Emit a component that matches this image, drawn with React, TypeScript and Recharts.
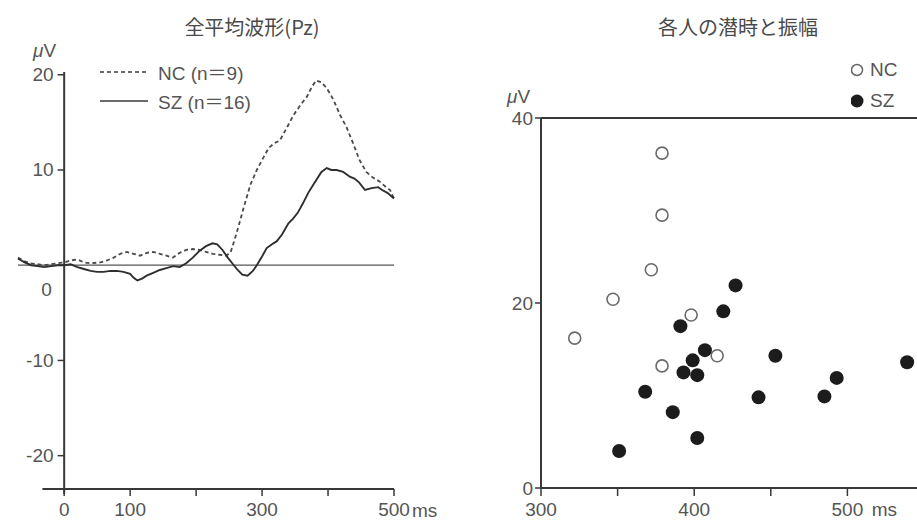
import React from "react";
import { LineChart, Line, XAxis, YAxis, ReferenceLine, ScatterChart, Scatter, Legend } from "recharts";

// grand average waveform at Pz (ms, µV)
const NC_TIME = [-70, -60, -50, -40, -30, -20, -10, 0, 10, 20, 30, 40, 55, 65, 75, 85, 95, 105, 115, 125, 135, 145, 155, 165, 175, 185, 195, 205, 215, 225, 235, 245, 252, 258, 264, 272, 282, 292, 302, 310, 318, 327, 338, 348, 358, 368, 376, 382, 390, 398, 408, 418, 428, 438, 448, 458, 468, 478, 488, 494, 500];
const NC_AMP = [0.8, 0.4, 0.2, 0.1, 0.0, 0.1, 0.2, 0.3, 0.5, 0.6, 0.3, 0.2, 0.3, 0.5, 0.8, 1.2, 1.4, 1.2, 1.0, 1.3, 1.4, 1.2, 1.0, 0.8, 1.3, 1.6, 1.7, 1.6, 1.4, 1.2, 1.1, 1.0, 1.3, 2.6, 4.0, 6.0, 8.4, 10.0, 11.3, 12.3, 12.8, 13.1, 14.5, 15.8, 16.8, 17.7, 18.8, 19.4, 19.2, 18.6, 17.4, 15.8, 14.5, 12.8, 11.0, 9.8, 9.2, 8.8, 8.2, 7.9, 7.0];
const SZ_TIME = [-70, -60, -50, -40, -30, -20, -10, 0, 10, 20, 30, 40, 50, 60, 70, 80, 90, 100, 105, 111, 118, 125, 135, 145, 155, 165, 175, 185, 195, 205, 215, 225, 232, 240, 248, 256, 263, 270, 278, 286, 292, 299, 307, 315, 322, 330, 340, 347, 354, 362, 370, 380, 390, 398, 405, 413, 423, 433, 440, 447, 456, 466, 476, 482, 490, 500];
const SZ_AMP = [0.7, 0.3, 0.0, -0.1, -0.2, -0.1, 0.0, 0.0, 0.1, -0.2, -0.4, -0.6, -0.7, -0.7, -0.6, -0.6, -0.7, -0.9, -1.3, -1.6, -1.4, -1.1, -0.8, -0.5, -0.3, -0.1, -0.2, 0.2, 0.8, 1.5, 2.0, 2.3, 2.2, 1.6, 0.8, 0.1, -0.5, -1.0, -1.1, -0.6, 0.0, 0.8, 1.8, 2.2, 2.5, 3.2, 4.4, 4.9, 5.5, 6.5, 7.6, 8.7, 9.8, 10.2, 10.0, 10.0, 9.8, 9.3, 9.1, 8.7, 7.9, 8.1, 8.2, 7.9, 7.6, 7.0];

// individual latency (ms) and amplitude (µV)
const NC_LATENCY = [379, 379, 372, 347, 322, 398, 379, 415];
const NC_AMPLITUDE = [36.2, 29.5, 23.6, 20.4, 16.2, 18.7, 13.2, 14.3];
const SZ_LATENCY = [427, 419, 391, 407, 399, 393, 402, 453, 539, 493, 368, 442, 485, 386, 402, 351];
const SZ_AMPLITUDE = [21.9, 19.1, 17.5, 14.9, 13.8, 12.5, 12.2, 14.3, 13.6, 11.9, 10.4, 9.8, 9.9, 8.2, 5.4, 4.0];

const WAVE_X_TICKS = [0, 100, 200, 300, 400, 500];
const WAVE_X_LABELS = ["0", "100", "", "300", "", "500"];
const WAVE_Y_TICKS = [20, 10, 0, -10, -20];
const WAVE_Y_LABELS = ["20", "10", "0", "-10", "-20"];
const SCAT_X_TICKS = [300, 350, 400, 450, 500];
const SCAT_X_LABELS = ["300", "", "400", "", "500"];
const SCAT_Y_TICKS = [0, 20, 40];

const NC_NAME = "NC (n＝9)";
const SZ_NAME = "SZ (n＝16)";

const ncWave = NC_TIME.map((t, i) => ({ t, v: NC_AMP[i] }));
const szWave = SZ_TIME.map((t, i) => ({ t, v: SZ_AMP[i] }));
const ncPts = NC_LATENCY.map((x, i) => ({ x, y: NC_AMPLITUDE[i] }));
const szPts = SZ_LATENCY.map((x, i) => ({ x, y: SZ_AMPLITUDE[i] }));

const FONT = "'Liberation Sans', Arial, 'Noto Sans CJK JP', sans-serif";
const CJK = "'Noto Sans CJK JP', sans-serif";
const INK = "#383838";
const TXT = "#555";
const FS = 19;
const Y_MIN = -23.5;

const xTick = (ticks: number[], labels: string[]) => (p: any) => {
  const i = ticks.indexOf(p.payload.value);
  return (
    <text x={p.x} y={p.y} dy="0.71em" textAnchor="middle" fill={TXT} fontSize={FS} fontFamily={FONT}>
      {labels[i] ?? ""}
    </text>
  );
};

const yTickLabel = (text: string, below: boolean) => (p: any) => {
  const vb = p.viewBox || { x: 0, y: 0 };
  if (below)
    return (
      <text x={vb.x - 11} y={vb.y + 24} textAnchor="middle" dominantBaseline="central" fill={TXT} fontSize={FS} fontFamily={FONT}>
        {text}
      </text>
    );
  return (
    <text x={vb.x - 4} y={vb.y} textAnchor="end" dominantBaseline="central" fill={TXT} fontSize={FS} fontFamily={FONT}>
      {text}
    </text>
  );
};

const unitLabel = (dx: number, dy: number, anchor: "start" | "end") => (p: any) => {
  const vb = p.viewBox || { x: 0, y: 0, width: 0 };
  return (
    <text x={vb.x + vb.width + dx} y={vb.y + dy} textAnchor={anchor} fill={TXT} fontSize={FS} fontFamily={FONT}>
      ms
    </text>
  );
};

function WaveLegend(props: any) {
  const items = props.payload || [];
  return (
    <div style={{ fontFamily: FONT, fontSize: FS, color: TXT }}>
      {items.map((it: any) => (
        <div key={it.value} style={{ display: "flex", alignItems: "center", height: 29 }}>
          <svg width={58} height={6}>
            <line x1={0} x2={48} y1={3} y2={3} stroke={INK} strokeWidth={1.6} strokeDasharray={it.value === NC_NAME ? "4 3" : undefined} />
          </svg>
          <span>{it.value}</span>
        </div>
      ))}
    </div>
  );
}

function DotLegend(props: any) {
  const items = props.payload || [];
  return (
    <div style={{ fontFamily: FONT, fontSize: FS, color: TXT }}>
      {items.map((it: any) => (
        <div key={it.value} style={{ display: "flex", alignItems: "center", height: 31 }}>
          <svg width={19} height={14}>
            {it.value === "NC" ? (
              <circle cx={6} cy={7} r={5.5} fill="#fff" stroke="#666" strokeWidth={1.5} />
            ) : (
              <circle cx={6} cy={7} r={6.5} fill="#1c1c1c" />
            )}
          </svg>
          <span>{it.value}</span>
        </div>
      ))}
    </div>
  );
}

const OpenDot = (p: any) => <circle cx={p.cx} cy={p.cy} r={6} fill="#fff" stroke="#6a6a6a" strokeWidth={1.6} />;
const FilledDot = (p: any) => <circle cx={p.cx} cy={p.cy} r={7} fill="#1c1c1c" />;

function WaveChart() {
  return (
    <LineChart width={470} height={521} margin={{ top: 70, right: 76, left: 18, bottom: 0 }}>
      <XAxis
        dataKey="t"
        type="number"
        domain={[-70, 500]}
        ticks={WAVE_X_TICKS}
        interval={0}
        axisLine={false}
        tickLine={{ stroke: INK, strokeWidth: 1.5 }}
        tickSize={7}
        tickMargin={7}
        height={32}
        tick={xTick(WAVE_X_TICKS, WAVE_X_LABELS)}
        label={{ content: unitLabel(18, 27.5, "start") }}
      />
      <YAxis hide type="number" domain={[Y_MIN, 20.5]} />
      <ReferenceLine y={0} stroke="#555" strokeWidth={1.3} />
      <ReferenceLine segment={[{ x: 0, y: -24 }, { x: 0, y: 20.3 }]} stroke={INK} strokeWidth={2} ifOverflow="visible" />
      <ReferenceLine segment={[{ x: -33, y: Y_MIN }, { x: 500, y: Y_MIN }]} stroke={INK} strokeWidth={2} ifOverflow="visible" />
      {WAVE_Y_TICKS.map((v, i) => (
        <ReferenceLine
          key={v}
          segment={[{ x: -10, y: v }, { x: 0, y: v }]}
          stroke={INK}
          strokeWidth={1.5}
          ifOverflow="visible"
          label={yTickLabel(WAVE_Y_LABELS[i], v === 0)}
        />
      ))}
      <Line data={ncWave} dataKey="v" name={NC_NAME} type="linear" stroke="#4a4a4a" strokeWidth={1.8} strokeDasharray="4 3" dot={false} isAnimationActive={false} />
      <Line data={szWave} dataKey="v" name={SZ_NAME} type="linear" stroke="#2e2e2e" strokeWidth={1.9} dot={false} isAnimationActive={false} />
      <Legend
        layout="vertical"
        align="center"
        verticalAlign="middle"
        content={<WaveLegend />}
        wrapperStyle={{ left: 100, top: 57, width: 200, height: 60 }}
      />
    </LineChart>
  );
}

function ScatterPanel() {
  return (
    <ScatterChart width={470} height={521} margin={{ top: 118, right: 16, left: 0, bottom: 0 }}>
      <XAxis
        dataKey="x"
        type="number"
        domain={[300, 550]}
        ticks={SCAT_X_TICKS}
        interval={0}
        axisLine={{ stroke: INK, strokeWidth: 2 }}
        tickLine={{ stroke: INK, strokeWidth: 1.5 }}
        tickSize={8}
        tickMargin={7}
        height={33}
        tick={xTick(SCAT_X_TICKS, SCAT_X_LABELS)}
        label={{ content: unitLabel(-27, 28, "end") }}
      />
      <YAxis
        dataKey="y"
        type="number"
        domain={[0, 40]}
        ticks={SCAT_Y_TICKS}
        interval={0}
        width={71}
        axisLine={{ stroke: INK, strokeWidth: 2 }}
        tickLine={{ stroke: INK, strokeWidth: 1.5 }}
        tickSize={6}
        tickMargin={2}
        tick={{ fill: TXT, fontSize: FS, fontFamily: FONT }}
      />
      <ReferenceLine y={40} stroke={INK} strokeWidth={2} />
      <Scatter data={ncPts} name="NC" fill="#fff" stroke="#666" shape={OpenDot} isAnimationActive={false} />
      <Scatter data={szPts} name="SZ" fill="#1c1c1c" shape={FilledDot} isAnimationActive={false} />
      <Legend
        layout="vertical"
        align="center"
        verticalAlign="middle"
        content={<DotLegend />}
        wrapperStyle={{ left: 381, top: 54, width: 80, height: 64 }}
      />
    </ScatterChart>
  );
}

const abs = (left: number, top: number, extra: React.CSSProperties = {}): React.CSSProperties => ({
  position: "absolute",
  left,
  top,
  ...extra,
});

export default function App() {
  return (
    <div style={abs(0, 0, { width: 917, height: 521, overflow: "hidden", background: "#fff" })}>
      <div style={abs(0, 0)}>
        <WaveChart />
      </div>
      <div style={abs(470, 0)}>
        <ScatterPanel />
      </div>
      <div style={abs(152, 12, { width: 200, textAlign: "center", fontFamily: CJK, fontSize: 20, color: "#4a4a4a" })}>全平均波形(Pz)</div>
      <div style={abs(638, 12, { width: 200, textAlign: "center", fontFamily: CJK, fontSize: 20, color: "#4a4a4a" })}>各人の潜時と振幅</div>
      <div style={abs(33, 40, { fontFamily: FONT, fontSize: FS, color: TXT })}>
        <i>μ</i>V
      </div>
      <div style={abs(507, 86, { fontFamily: FONT, fontSize: FS, color: TXT })}>
        <i>μ</i>V
      </div>
    </div>
  );
}
